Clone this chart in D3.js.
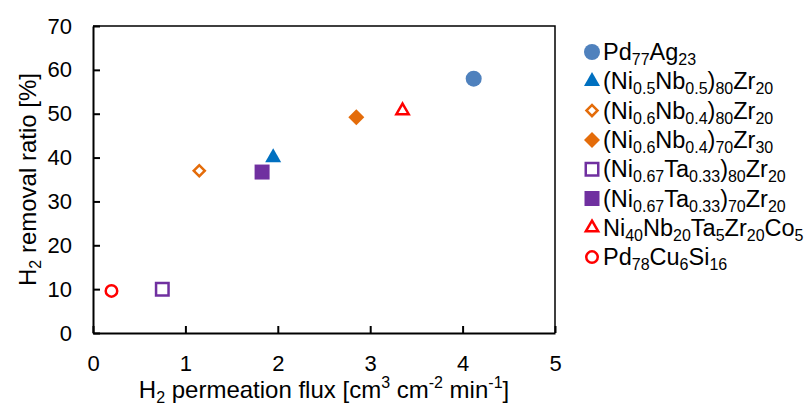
<!DOCTYPE html>
<html>
<head>
<meta charset="utf-8">
<script src="https://cdn.jsdelivr.net/npm/d3@7"></script>
<style>
  body { margin: 0; background: #fff; }
  svg { font-family: Arial, "Liberation Sans", sans-serif; }
  .axis path, .axis line { stroke: #000; stroke-width: 2; }
  .axis text { font-size: 22px; fill: #000; font-family: Arial, "Liberation Sans", sans-serif; }
</style>
</head>
<body>
<div id="chart"></div>
<script>
// series labels ({..} = subscript)
const names = [
  'Pd{77}Ag{23}',
  '(Ni{0.5}Nb{0.5}){80}Zr{20}',
  '(Ni{0.6}Nb{0.4}){80}Zr{20}',
  '(Ni{0.6}Nb{0.4}){70}Zr{30}',
  '(Ni{0.67}Ta{0.33}){80}Zr{20}',
  '(Ni{0.67}Ta{0.33}){70}Zr{20}',
  'Ni{40}Nb{20}Ta{5}Zr{20}Co{5}',
  'Pd{78}Cu{6}Si{16}'
]
// H2 permeation flux and removal ratio
const fluxValues = [4.12, 1.95, 1.15, 2.85, 0.75, 1.83, 3.35, 0.2]
const ratioValues = [58, 40, 37, 49.2, 10, 36.7, 50.7, 9.6]
const shapes = ['circle', 'triangle', 'diamond', 'diamond', 'square', 'square', 'triangle', 'circle']
const colors = ['#4F81BD', '#0070C0', '#E46C0A', '#E46C0A', '#7030A0', '#7030A0', '#FF0000', '#FF0000']
const filled = [true, true, false, true, false, true, false, false]
const xTicks = [0, 1, 2, 3, 4, 5]
const yTicks = [0, 10, 20, 30, 40, 50, 60, 70]

const W = 810, H = 406
const margin = { top: 26, right: 255, bottom: 73, left: 93 }
const width = W - margin.left - margin.right
const height = H - margin.top - margin.bottom

const svg = d3.select('#chart').append('svg')
  .attr('width', W)
  .attr('height', H)

const g = svg.append('g')
  .attr('transform', `translate(${margin.left},${margin.top})`)

const xScale = d3.scaleLinear().domain([0, 5]).range([0, width])
const yScale = d3.scaleLinear().domain([0, 70]).range([height, 0])

//frame top and right
g.append('path')
  .attr('d', `M0,0H${width}V${height}`)
  .attr('fill', 'none')
  .attr('stroke', '#000')
  .attr('stroke-width', 1.5)

//axes with inward ticks
g.append('g')
  .attr('class', 'axis')
  .attr('transform', `translate(0,${height})`)
  .call(d3.axisBottom(xScale).tickValues(xTicks).tickFormat(d3.format('d'))
    .tickSizeInner(-7).tickSizeOuter(0).tickPadding(22))

g.append('g')
  .attr('class', 'axis')
  .call(d3.axisLeft(yScale).tickValues(yTicks).tickFormat(d3.format('d'))
    .tickSizeInner(-7).tickSizeOuter(0).tickPadding(21))

//marker path for a shape
function symbolPath(shape, isFilled) {
  if (shape == 'circle') return d3.symbol(d3.symbolCircle, isFilled ? 201 : 104)()
  if (shape == 'triangle') return d3.symbol(d3.symbolTriangle, isFilled ? 111 : 66)()
  if (shape == 'square') return d3.symbol(d3.symbolSquare, isFilled ? 225 : 156)()
  return d3.symbol(d3.symbolSquare, isFilled ? 128 : 61)()
}

function drawMarker(sel, i, x, y) {
  sel.append('path')
    .attr('d', symbolPath(shapes[i], filled[i]))
    .attr('transform', `translate(${x},${y})` + (shapes[i] == 'diamond' ? ' rotate(45)' : ''))
    .attr('fill', filled[i] ? colors[i] : '#fff')
    .attr('stroke', colors[i])
    .attr('stroke-width', filled[i] ? 0 : 2.5)
}

//points
const pts = g.append('g')
names.forEach((n, i) => {
  drawMarker(pts, i, xScale(fluxValues[i]), yScale(ratioValues[i]))
})

//text with {sub} and ^{sup} pieces
function richText(textSel, str, size, small) {
  const re = /(\^?)\{([^}]*)\}|([^{^]+)/g
  let m, shift = 0
  while ((m = re.exec(str)) !== null) {
    if (m[3]) {
      textSel.append('tspan').attr('dy', -shift).style('font-size', size + 'px').text(m[3])
      shift = 0
    } else {
      const s = m[1] ? -0.4 * size : 0.22 * size
      textSel.append('tspan').attr('dy', s - shift).style('font-size', small + 'px').text(m[2])
      shift = s
    }
  }
}

//legend
const legend = svg.append('g')
names.forEach((n, i) => {
  const cy = 52 + i * 29.3
  drawMarker(legend, i, 592, cy)
  const t = legend.append('text')
    .attr('x', 603)
    .attr('y', cy + 8)
    .attr('fill', '#000')
  richText(t, n, 23.5, 16)
})

//x label
const xl = svg.append('text')
  .attr('x', margin.left + width / 2)
  .attr('y', 398)
  .attr('text-anchor', 'middle')
  .attr('fill', '#000')
richText(xl, 'H{2} permeation flux [cm^{3} cm^{-2} min^{-1}]', 24, 16)

//y label
const yl = svg.append('text')
  .attr('transform', `translate(36,${margin.top + height / 2}) rotate(-90)`)
  .attr('text-anchor', 'middle')
  .attr('fill', '#000')
richText(yl, 'H{2} removal ratio [%]', 24, 16)
</script>
</body>
</html>
